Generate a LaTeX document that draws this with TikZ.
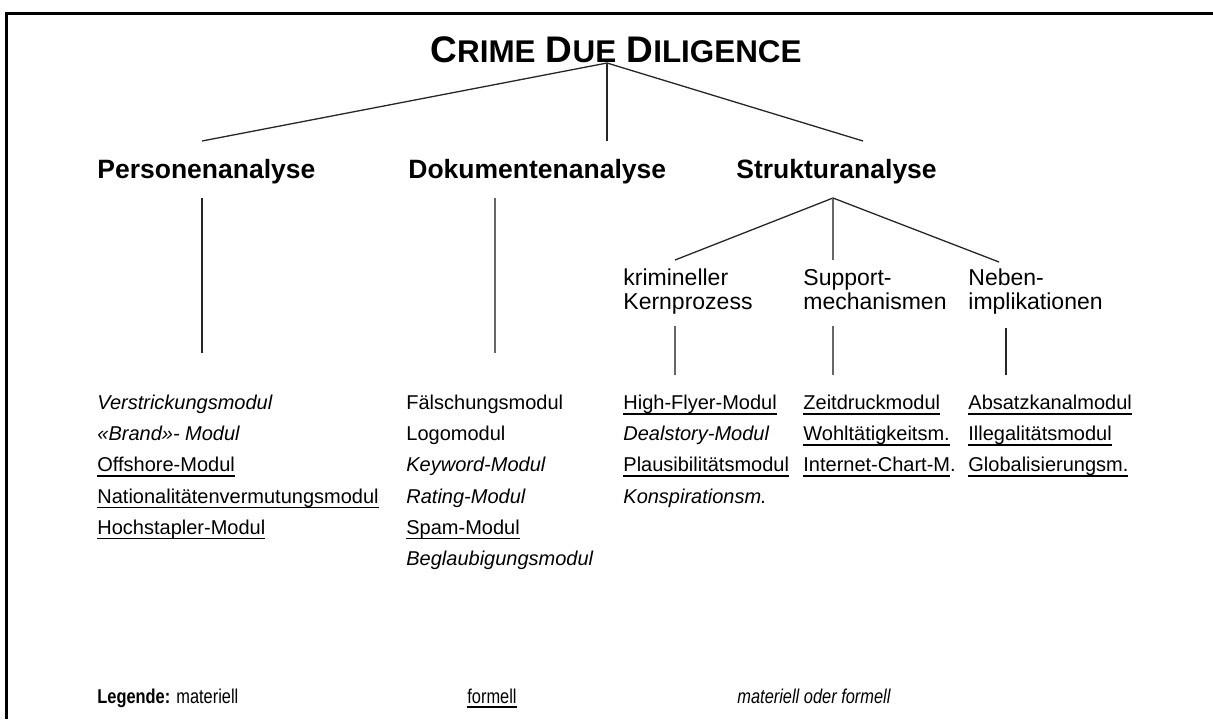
\documentclass[tikz,border=0pt]{standalone}
\usepackage{fontspec}
\setmainfont{Liberation Sans}
\newfontfamily\narrowfont[FakeStretch=0.82]{Liberation Sans}
\usetikzlibrary{positioning}
\newlength\ulw
\newcommand\ulin[1]{\settowidth\ulw{#1}\rlap{\rule[-2.5pt]{\ulw}{0.8pt}}#1}
\newcommand\tsc[2]{{\fontsize{18.5}{20}\selectfont #1}{\fontsize{15.7}{17}\selectfont #2}}
\tikzset{
  head/.style   = {anchor=base west, inner sep=0pt,
                   font=\fontsize{13.25}{15}\selectfont\bfseries},
  sub/.style    = {anchor=base west, inner sep=0pt, align=left,
                   font=\fontsize{11.5}{11.7}\selectfont},
  item/.style   = {anchor=base west, inner sep=0pt, font=\fontsize{10}{12}\selectfont},
  legend/.style = {anchor=base west, inner sep=0pt,
                   font=\narrowfont\fontsize{10}{12}\selectfont},
  branch/.style = {black!85, line width=0.65pt},
  stem/.style   = {black!60, line width=0.65pt}
}

\begin{document}
\begin{tikzpicture}[x=0.5pt, y=-0.5pt]
    \useasboundingbox (0,0) rectangle (1213,719);
    \draw[line width=1.5pt] (6,719) -- (6,13) -- (1213,13);

    \node[anchor=base, inner sep=0pt, font=\fontsize{18.5}{20}\selectfont\bfseries]
        (title) at (616,62) {\tsc{C}{RIME} \tsc{D}{UE} \tsc{D}{ILIGENCE}};

    \node[head](pers)  at (97,178)  {Personenanalyse};
    \node[head](doku)  at (408,178) {Dokumentenanalyse};
    \node[head](struk) at (736,178) {Strukturanalyse};

    \node[sub](kern)  at (623,309) {krimineller\\Kernprozess};
    \node[sub](supp)  at (803,309) {Support-\\mechanismen};
    \node[sub](neben) at (968,309) {Neben-\\implikationen};

    \coordinate (root)      at (607,63);
    \coordinate (pers-in)   at (202,141);
    \coordinate (doku-in)   at (607,141);
    \coordinate (struk-in)  at (863,141);
    \coordinate (pers-out)  at (202,198);
    \coordinate (pers-end)  at (202,353);
    \coordinate (doku-out)  at (495,198);
    \coordinate (doku-end)  at (495,353);
    \coordinate (struk-out) at (833,198);
    \coordinate (kern-in)   at (675,260);
    \coordinate (supp-in)   at (833,260);
    \coordinate (neben-in)  at (999,262);
    \coordinate (kern-out)  at (675,326);
    \coordinate (kern-end)  at (675,375);
    \coordinate (supp-out)  at (833,326);
    \coordinate (supp-end)  at (833,375);
    \coordinate (neben-out) at (1006,328);
    \coordinate (neben-end) at (1006,375);

    \draw[branch](root)--(pers-in); \draw[branch](root)--(doku-in); \draw[branch](root)--(struk-in);
    \draw[branch](pers-out)--(pers-end); \draw[stem](doku-out)--(doku-end);
    \draw[branch](struk-out)--(kern-in); \draw[stem](struk-out)--(supp-in); \draw[branch](struk-out)--(neben-in);
    \draw[stem](kern-out)--(kern-end); \draw[stem](supp-out)--(supp-end); \draw[branch](neben-out)--(neben-end);

    \foreach \txt [count=\i] in {\textit{Verstrickungsmodul}, \textit{«Brand»- Modul},
        \ulin{Offshore-Modul}, \ulin{Nationalitätenvermutungsmodul}, \ulin{Hochstapler-Modul}}
        \node[item](pmod\i) at (97,378.3+31.2*\i) {\txt};
    \foreach \txt [count=\i] in {Fälschungsmodul, Logomodul, \textit{Keyword-Modul},
        \textit{Rating-Modul}, \ulin{Spam-Modul}, \textit{Beglaubigungsmodul}}
        \node[item](dmod\i) at (406,378.3+31.2*\i) {\txt};
    \foreach \txt [count=\i] in {\ulin{High-Flyer-Modul}, \textit{Dealstory-Modul},
        \ulin{Plausibilitätsmodul}, \textit{Konspirationsm.}}
        \node[item](kmod\i) at (623,378.3+31.2*\i) {\txt};
    \foreach \txt [count=\i] in {\ulin{Zeitdruckmodul}, \ulin{Wohltätigkeitsm.}, \ulin{Internet-Chart-M}.}
        \node[item](smod\i) at (803,378.3+31.2*\i) {\txt};
    \foreach \txt [count=\i] in {\ulin{Absatzkanalmodul}, \ulin{Illegalitätsmodul}, \ulin{Globalisierungsm.}}
        \node[item](nmod\i) at (968,378.3+31.2*\i) {\txt};

    \node[legend](leg-m)  at (97,703)  {\textbf{Legende:} materiell};
    \node[legend](leg-f)  at (467,703) {\ulin{formell}};
    \node[legend](leg-mf) at (737,703) {\textit{materiell oder formell}};
\end{tikzpicture}
\end{document}
